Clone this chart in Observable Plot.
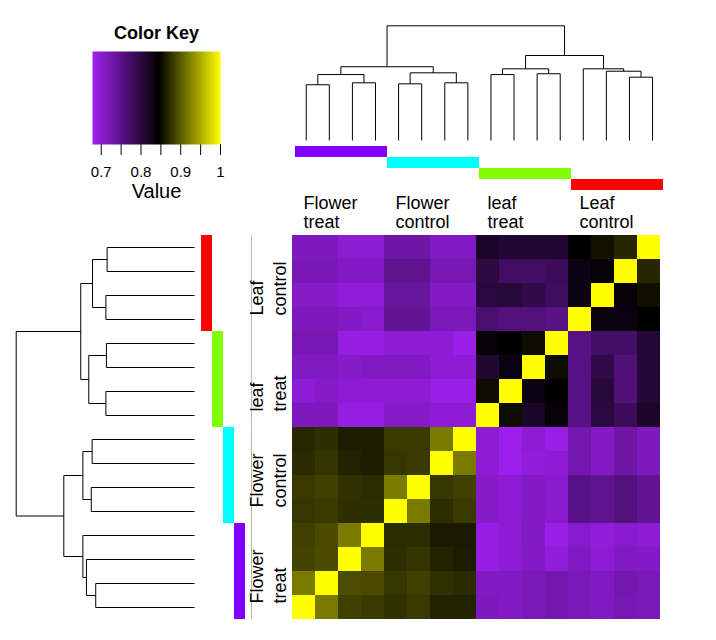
<!DOCTYPE html>
<html><head><meta charset="utf-8">
<script src="https://cdn.jsdelivr.net/npm/d3@7"></script>
<script src="https://cdn.jsdelivr.net/npm/@observablehq/plot@0.6"></script>
<style>
body{margin:0;background:#fff;font-family:"Liberation Sans",Arial,sans-serif;}
#wrap{position:relative;width:716px;height:640px;overflow:hidden;}
</style></head><body><div id="wrap"></div>
<script>
// ---------------- data ----------------
const groupLabels = ["Flower\ntreat", "Flower\ncontrol", "leaf\ntreat", "Leaf\ncontrol"];
const groupColors = ["#8000FF", "#00FFFF", "#80FF00", "#FF0000"];
const colGroups = [0, 1, 2, 3];          // column groups left -> right
const rowGroups = [3, 2, 1, 0];          // row groups top -> bottom

// correlation values, rows top->bottom, columns left->right
const values = [
  [.713,.713,.699,.699,.729,.729,.710,.710,.817,.809,.809,.809,.845,.856,.868,1],
  [.718,.718,.708,.708,.746,.746,.721,.721,.798,.776,.776,.782,.831,.840,1,.868],
  [.705,.705,.694,.694,.736,.736,.708,.708,.801,.805,.793,.779,.831,1,.837,.855],
  [.713,.713,.708,.702,.742,.742,.717,.717,.768,.757,.757,.752,1,.834,.834,.845],
  [.721,.721,.688,.688,.697,.697,.697,.683,.840,.845,.852,1,.752,.774,.774,.806],
  [.710,.710,.705,.710,.710,.710,.697,.697,.811,.833,1,.852,.752,.793,.762,.806],
  [.697,.705,.698,.698,.698,.698,.685,.685,.852,1,.831,.845,.752,.805,.762,.806],
  [.713,.713,.688,.688,.705,.705,.697,.697,1,.852,.817,.840,.752,.801,.782,.817],
  [.869,.873,.862,.862,.880,.880,.919,1,.697,.681,.697,.685,.724,.708,.729,.713],
  [.871,.877,.866,.862,.878,.880,1,.919,.697,.681,.694,.697,.724,.708,.729,.713],
  [.880,.884,.875,.872,.919,1,.878,.883,.705,.697,.708,.702,.752,.746,.757,.742],
  [.878,.880,.873,.873,1,.919,.872,.880,.705,.697,.708,.702,.752,.746,.757,.742],
  [.884,.890,.919,1,.872,.872,.861,.861,.688,.697,.709,.685,.702,.694,.702,.697],
  [.886,.891,1,.919,.873,.877,.866,.862,.688,.697,.708,.694,.709,.697,.709,.708],
  [.919,1,.892,.890,.878,.884,.874,.871,.710,.709,.717,.724,.717,.710,.724,.717],
  [1,.919,.884,.880,.875,.880,.866,.866,.713,.708,.717,.724,.717,.710,.721,.717]
];

// hclust-style merges: negative = leaf (1-based display order), positive = earlier merge
const colMerge = [
  [-1,-2,0.486],[-3,-4,0.503],[1,2,0.575],
  [-5,-6,0.494],[-7,-8,0.503],[4,5,0.590],[3,6,0.643],
  [-9,-10,0.575],[-11,-12,0.582],[8,9,0.625],
  [-15,-16,0.552],[-14,11,0.604],[-13,12,0.625],[10,13,0.741],
  [7,14,1.0]
];
const rowMerge = [
  [-1,-2,0.554],[1,-3,0.606],[2,-4,0.626],
  [-5,-6,0.579],[-7,-8,0.574],[4,5,0.626],[3,6,0.733],
  [-9,-10,0.497],[-11,-12,0.494],[8,9,0.593],
  [-13,-14,0.497],[-15,-16,0.490],[11,12,0.572],[10,13,0.638],
  [7,14,1.0]
];

const keyDomain = [0.678, 0.845, 1];
const keyColors = ["#A020F0", "#000000", "#FFFF00"];
const keyTicks = [0.7, 0.75, 0.8, 0.85, 0.9, 0.95, 1];
const keyLabels = ["0.7", "", "0.8", "", "0.9", "", "1"];

// ---------------- helpers ----------------
const wrap = document.getElementById("wrap");
const base = {background: "transparent", fontFamily: "Liberation Sans, Arial, sans-serif", color: "black"};
function place(el, left, top) {
  el.style.position = "absolute"; el.style.left = left + "px"; el.style.top = top + "px";
  wrap.appendChild(el);
}
function dendroSegments(merge) {
  const nodes = [], segs = [];
  const get = k => k < 0 ? {pos: -k, h: 0} : nodes[k - 1];
  for (const [a, b, h] of merge) {
    const A = get(a), B = get(b);
    segs.push({p1: A.pos, h1: A.h, p2: A.pos, h2: h});
    segs.push({p1: B.pos, h1: B.h, p2: B.pos, h2: h});
    segs.push({p1: A.pos, h1: h, p2: B.pos, h2: h});
    nodes.push({pos: (A.pos + B.pos) / 2, h});
  }
  return segs;
}
const colorScale = {type: "linear", domain: keyDomain, range: keyColors, interpolate: "rgb"};

// ---------------- color key ----------------
place(Plot.plot({
  width: 250, height: 220, marginLeft: 92, marginRight: 30, marginTop: 51, marginBottom: 76,
  style: {...base, fontSize: "15px"},
  x: {domain: [keyDomain[0], 1], ticks: keyTicks, tickFormat: d => keyLabels[keyTicks.indexOf(d)],
      tickSize: 11, tickPadding: 11, label: null},
  y: {domain: [0, 1], axis: null},
  color: colorScale,
  marks: [
    Plot.raster({fill: (x, y) => x, x1: keyDomain[0], x2: 1, y1: 0, y2: 1, pixelSize: 1}),
    Plot.text(["Color Key"], {text: d => d, frameAnchor: "top", lineAnchor: "middle", dy: -18, fontWeight: "bold", fontSize: 18}),
    Plot.text(["Value"], {text: d => d, frameAnchor: "bottom", lineAnchor: "middle", dy: 47, fontSize: 20})
  ]
}), 0, 0);

// ---------------- top dendrogram ----------------
place(Plot.plot({
  width: 436, height: 145, marginLeft: 14.2, marginRight: 52.4, marginTop: 25.3, marginBottom: 5,
  style: base,
  x: {domain: [0.5, 16.5], axis: null},
  y: {domain: [0, 1], axis: null},
  marks: [Plot.link(dendroSegments(colMerge), {x1: "p1", y1: "h1", x2: "p2", y2: "h2", stroke: "black", strokeWidth: 1})]
}), 280, 0);

// ---------------- top colour bars ----------------
place(Plot.plot({
  width: 436, height: 47, marginLeft: 13, marginRight: 52, marginTop: 0, marginBottom: 1,
  style: base,
  x: {type: "band", domain: colGroups, padding: 0, axis: null},
  y: {type: "band", domain: colGroups, padding: 0, axis: null},
  color: {type: "identity"},
  marks: [Plot.cell(colGroups, {x: d => d, y: d => d, fill: d => groupColors[d], inset: 0})]
}), 280, 145);

// ---------------- top labels ----------------
place(Plot.plot({
  width: 436, height: 43, marginLeft: 12, marginRight: 56, marginTop: 0, marginBottom: 0,
  style: base,
  x: {domain: [0, 4], axis: null},
  y: {domain: [0, 1], axis: null},
  marks: [Plot.text(colGroups, {x: d => d, y: 1, text: d => groupLabels[d], textAnchor: "start",
    lineAnchor: "top", dx: 11, dy: 3, fontSize: 18, lineHeight: 1.05})]
}), 280, 192);

// ---------------- heatmap ----------------
const cells = values.flatMap((row, r) => row.map((v, c) => ({r, c, v})));
place(Plot.plot({
  width: 368, height: 384, margin: 0,
  style: base,
  x: {type: "band", domain: d3.range(16), padding: 0, axis: null},
  y: {type: "band", domain: d3.range(16), padding: 0, axis: null},
  color: colorScale,
  marks: [Plot.cell(cells, {x: "c", y: "r", fill: "v", inset: 0, shapeRendering: "crispEdges"})]
}), 292, 235);

// ---------------- left dendrogram ----------------
place(Plot.plot({
  width: 200, height: 384, marginLeft: 15.7, marginRight: 6, marginTop: 0, marginBottom: 0,
  style: base,
  x: {domain: [0, 1], reverse: true, axis: null},
  y: {domain: [0.5, 16.5], axis: null},
  marks: [Plot.link(dendroSegments(rowMerge), {x1: "h1", y1: "p1", x2: "h2", y2: "p2", stroke: "black", strokeWidth: 1})]
}), 0, 235);

// ---------------- left colour bars ----------------
place(Plot.plot({
  width: 45, height: 384, margin: 0,
  style: base,
  x: {type: "band", domain: rowGroups, padding: 0, axis: null},
  y: {type: "band", domain: rowGroups, padding: 0, axis: null},
  color: {type: "identity"},
  marks: [Plot.cell(rowGroups, {x: d => d, y: d => d, fill: d => groupColors[d], inset: 0})]
}), 200, 235);

// ---------------- left labels ----------------
place(Plot.plot({
  width: 47, height: 384, margin: 0,
  style: base,
  x: {domain: [0, 47], axis: null},
  y: {domain: [0, 4], reverse: true, axis: null},
  marks: [
    Plot.ruleX([0, 1], {x: 6, y1: d => d * 2, y2: d => d * 2 + 2, stroke: d => d ? "#b8b8a0" : "#c4b0e6", strokeWidth: 1}),
    Plot.text(rowGroups, {x: 2, y: (d, i) => i + 1, text: d => groupLabels[d], rotate: -90,
      textAnchor: "start", lineAnchor: "top", dy: -16, fontSize: 18, lineHeight: 1.25})
  ]
}), 245, 235);
</script></body></html>
